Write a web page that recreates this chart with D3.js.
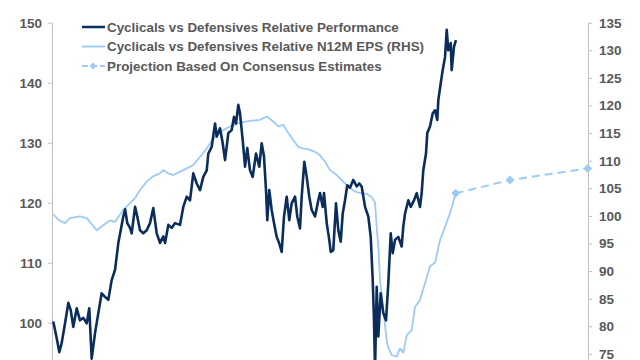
<!DOCTYPE html>
<html>
<head>
<meta charset="utf-8">
<script src="https://cdn.jsdelivr.net/npm/d3@7/dist/d3.min.js"></script>
<style>
  html, body { margin: 0; padding: 0; background: #fff; }
  svg { display: block; }
  text { font-family: "Liberation Sans", Arial, sans-serif; }
</style>
</head>
<body>
<svg id="chart" width="640" height="360"></svg>
<script>
// ---------- DATA (time in decimal years) ----------
const perfTimes = [2016.216,2016.259,2016.291,2016.321,2016.363,2016.404,2016.434,2016.466,2016.509,2016.55,2016.591,2016.634,2016.666,2016.696,2016.738,2016.779,2016.821,2016.863,2016.904,2016.946,2016.988,2017.029,2017.059,2017.091,2017.114,2017.141,2017.175,2017.196,2017.238,2017.266,2017.3,2017.341,2017.384,2017.425,2017.466,2017.509,2017.55,2017.591,2017.613,2017.654,2017.696,2017.738,2017.8,2017.841,2017.884,2017.925,2017.966,2018.009,2018.05,2018.091,2018.134,2018.154,2018.196,2018.238,2018.259,2018.3,2018.334,2018.363,2018.404,2018.446,2018.475,2018.5,2018.529,2018.55,2018.584,2018.613,2018.641,2018.675,2018.709,2018.75,2018.791,2018.821,2018.85,2018.875,2018.891,2018.916,2018.946,2018.975,2019.009,2019.041,2019.071,2019.1,2019.134,2019.166,2019.196,2019.238,2019.266,2019.3,2019.321,2019.354,2019.384,2019.416,2019.446,2019.488,2019.529,2019.55,2019.584,2019.6,2019.634,2019.666,2019.684,2019.716,2019.75,2019.779,2019.809,2019.834,2019.863,2019.891,2019.925,2019.966,2020.009,2020.041,2020.071,2020.113,2020.154,2020.184,2020.209,2020.225,2020.238,2020.259,2020.279,2020.309,2020.341,2020.375,2020.404,2020.434,2020.459,2020.488,2020.529,2020.571,2020.591,2020.613,2020.654,2020.684,2020.725,2020.759,2020.8,2020.821,2020.841,2020.875,2020.891,2020.925,2020.959,2020.988,2021.016,2021.029,2021.059,2021.084,2021.113,2021.134,2021.154,2021.184,2021.196,2021.225,2021.25];
const perfValues = [100.2,97.4,95.1,96.6,99.9,103.3,102.1,99.3,102.4,100.4,100.8,99.9,102.4,94.0,98.3,101.6,104.9,104.3,103.8,107.1,108.8,113.3,115.4,117.7,118.9,116.6,115.8,114.9,119.3,117.7,115.4,114.9,115.4,116.6,119.1,114.9,113.3,114.4,113.3,116.3,115.8,116.6,116.3,119.3,121.0,120.4,124.9,123.2,122.1,124.3,125.4,128.2,129.3,133.2,131.0,132.4,129.9,127.1,131.6,132.1,134.3,133.2,136.3,134.9,130.4,126.0,129.1,125.4,124.3,128.2,126.0,129.9,127.7,122.1,117.1,122.1,118.8,116.6,114.3,113.2,111.8,117.7,121.0,117.1,119.9,121.0,117.7,115.7,121.0,126.8,124.3,121.0,118.8,117.7,120.4,121.6,119.3,121.6,116.6,113.8,111.8,112.1,119.9,115.4,113.5,118.2,120.4,122.9,122.5,123.8,122.7,123.2,122.7,119.3,117.7,114.3,107.1,100.4,92.1,106.0,97.7,104.9,101.6,100.4,106.6,114.9,111.6,113.8,114.3,112.7,116.0,118.2,120.4,119.3,120.4,121.6,119.3,121.6,125.4,128.2,131.6,132.7,134.9,135.4,133.8,137.1,139.9,142.1,144.3,148.8,145.4,146.6,142.1,146.0,147.1];

const epsTimes = [2016.216,2016.279,2016.363,2016.425,2016.55,2016.634,2016.675,2016.759,2016.841,2016.925,2016.988,2017.029,2017.091,2017.154,2017.238,2017.3,2017.384,2017.466,2017.55,2017.591,2017.654,2017.716,2017.841,2017.966,2018.05,2018.134,2018.216,2018.3,2018.384,2018.425,2018.55,2018.675,2018.8,2018.884,2018.966,2019.029,2019.091,2019.154,2019.216,2019.279,2019.341,2019.404,2019.488,2019.55,2019.613,2019.675,2019.759,2019.821,2019.904,2019.988,2020.075,2020.134,2020.196,2020.238,2020.259,2020.279,2020.3,2020.341,2020.384,2020.404,2020.446,2020.509,2020.55,2020.591,2020.634,2020.696,2020.738,2020.8,2020.863,2020.925,2020.988,2021.05,2021.113,2021.175,2021.244];
const epsValues = [100.3,99.3,98.7,99.6,99.9,99.6,98.9,97.4,98.3,99.2,98.9,99.8,101.1,102.0,103.2,104.7,106.2,107.2,107.7,108.3,107.7,107.4,108.3,109.2,110.7,112.2,114.0,115.2,115.9,116.2,116.9,117.2,117.4,118.0,117.1,116.2,116.5,115.0,113.7,112.5,112.2,112.1,111.6,111.0,109.8,108.3,107.4,106.5,105.3,104.4,104.1,104.0,103.4,102.4,98.0,94.4,88.4,83.0,77.5,76.1,74.8,74.5,76.0,75.2,78.4,79.3,83.5,84.8,87.8,90.9,91.5,95.6,98.0,100.5,104.0];

const projTimes = [2021.246, 2021.925, 2022.896];
const projValues = [104.1, 106.5, 108.6];

const leftTicks = [100, 110, 120, 130, 140, 150];
const rightTicks = [75, 80, 85, 90, 95, 100, 105, 110, 115, 120, 125, 130, 135];

const legendLabels = [
  "Cyclicals vs Defensives Relative Performance",
  "Cyclicals vs Defensives Relative N12M EPS (RHS)",
  "Projection Based On Consensus Estimates"
];

// ---------- STYLE ----------
const darkCol = "#0b2d5b";
const lightCol = "#9dcbf6";
const textCol = "#595959";
const axisCol = "#bfbfbf";

const svg = d3.select("#chart");
const plotLeft = 52, plotRight = 588, plotTop = 22.7;

const x = d3.scaleLinear().domain([2016.2, 2022.9]).range([plotLeft, plotRight]);
const yL = d3.scaleLinear().domain([90, 150]).range([382.7, plotTop]);
const yR = d3.scaleLinear().domain([70, 135]).range([381.5, plotTop]);

// axes
const axL = svg.append("g").attr("transform", `translate(${plotLeft},0)`)
  .call(d3.axisLeft(yL).tickValues(leftTicks).tickSize(4).tickPadding(6).tickSizeOuter(0).tickFormat(d3.format("d")));
const axR = svg.append("g").attr("transform", `translate(${plotRight},0)`)
  .call(d3.axisRight(yR).tickValues(rightTicks).tickSize(4).tickPadding(7).tickSizeOuter(0).tickFormat(d3.format("d")));
[axL, axR].forEach(a => {
  a.selectAll("path, line").attr("stroke", axisCol).attr("stroke-width", 1);
  a.selectAll("text").attr("fill", textCol).attr("font-size", "13.5px").attr("font-weight", "bold")
    .attr("font-family", "'Liberation Sans', Arial, sans-serif");
});

// EPS line (RHS)
const epsData = epsTimes.map((t, i) => [t, epsValues[i]]);
svg.append("path").datum(epsData)
  .attr("fill", "none").attr("stroke", lightCol).attr("stroke-width", 1.8).attr("stroke-linejoin", "round")
  .attr("d", d3.line().x(d => x(d[0])).y(d => yR(d[1])));

// projection
const projData = projTimes.map((t, i) => [t, projValues[i]]);
svg.append("path").datum(projData)
  .attr("fill", "none").attr("stroke", lightCol).attr("stroke-width", 2).attr("stroke-dasharray", "8,5")
  .attr("d", d3.line().x(d => x(d[0])).y(d => yR(d[1])));
svg.selectAll(".diam").data(projData).enter().append("path")
  .attr("class", "diam")
  .attr("transform", d => `translate(${x(d[0])},${yR(d[1])})`)
  .attr("d", d3.symbol().type(d3.symbolDiamond2).size(50))
  .attr("fill", lightCol);

// performance line (LHS)
const perfData = perfTimes.map((t, i) => [t, perfValues[i]]);
svg.append("path").datum(perfData)
  .attr("fill", "none").attr("stroke", darkCol).attr("stroke-width", 2.6).attr("stroke-linejoin", "round")
  .attr("d", d3.line().x(d => x(d[0])).y(d => yL(d[1])));

// legend
const legY = [27, 46.5, 66];
const lg = svg.append("g");
legendLabels.forEach((lab, i) => {
  const yy = legY[i];
  const ln = lg.append("line").attr("x1", 82).attr("x2", 105).attr("y1", yy).attr("y2", yy)
    .attr("stroke", i === 0 ? darkCol : lightCol).attr("stroke-width", i === 0 ? 2.5 : 2);
  if (i === 2) {
    ln.attr("stroke-dasharray", "6,3");
    lg.append("path").attr("transform", `translate(93,${yy})`)
      .attr("d", d3.symbol().type(d3.symbolDiamond2).size(30)).attr("fill", lightCol);
  }
  lg.append("text").attr("x", 107).attr("y", yy).attr("dy", "0.35em")
    .attr("fill", textCol).attr("font-size", "13.4px").attr("font-weight", "bold").text(lab);
});
</script>
</body>
</html>
